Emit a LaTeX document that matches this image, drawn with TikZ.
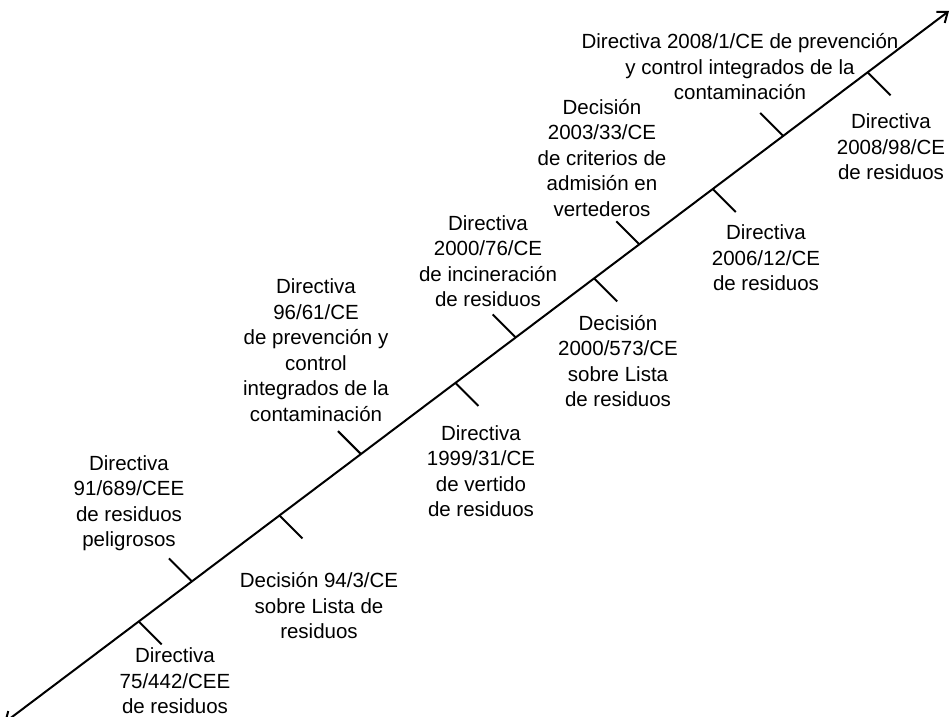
\documentclass[tikz,border=0pt]{standalone}
\usepackage{fontspec}
\setmainfont{Liberation Sans}
\usetikzlibrary{calc,arrows.meta}
\begin{document}
\begin{tikzpicture}[x=1pt,y=-1pt,
  axis/.style={line width=2pt,{Straight Barb[length=9pt,width=14pt,line width=2pt]}-{Straight Barb[length=9pt,width=14pt,line width=2pt]}},
  tick/.style={line width=2pt},
  label/.style={align=center,inner sep=0pt,
    font=\fontsize{20.5pt}{25.5pt}\selectfont}]
\useasboundingbox (0,0) rectangle (951,717);
\fill[white] (0,0) rectangle (951,717);
% time axis
\coordinate (A) at (4,723);
\coordinate (B) at (949,11);
\draw[axis] (A) -- (B);
% tick marks along the axis
\foreach \n/\t in {1/0.1426,2/0.1989,3/0.2915,4/0.3777,5/0.4777,6/0.5415,
                   7/0.6245,8/0.6723,9/0.75,10/0.8245,11/0.9138}
  \coordinate (p\n) at ($(A)!\t!(B)$);
\foreach \n in {1,3,5,7,9,11}
  \draw[tick] (p\n) -- ++(23,23) coordinate (q\n);
\foreach \n in {2,4,6,8,10}
  \draw[tick] (p\n) -- ++(-23,-23) coordinate (q\n);
% milestones
\node[label] (t1) at (175,681) {Directiva\\75/442/CEE\\de residuos};
\node[label] (t2) at (129,503) {Directiva\\91/689/CEE\\de residuos\\peligrosos};
\node[label] (t3) at (319,606) {Decisión 94/3/CE\\sobre Lista de\\residuos};
\node[label] (t4) at (316,350) {Directiva\\96/61/CE\\de prevención y\\control\\integrados de la\\contaminación};
\node[label] (t5) at (481,471) {Directiva\\1999/31/CE\\de vertido\\de residuos};
\node[label] (t6) at (488,261) {Directiva\\2000/76/CE\\de incineración\\de residuos};
\node[label] (t7) at (618,361) {Decisión\\2000/573/CE\\sobre Lista\\de residuos};
\node[label] (t8) at (602,158) {Decisión\\2003/33/CE\\de criterios de\\admisión en\\vertederos};
\node[label] (t9) at (766,258) {Directiva\\2006/12/CE\\de residuos};
\node[label] (t10) at (740,67) {Directiva 2008/1/CE de prevención\\y control integrados de la\\contaminación};
\node[label] (t11) at (891,147) {Directiva\\2008/98/CE\\de residuos};
\end{tikzpicture}
\end{document}
